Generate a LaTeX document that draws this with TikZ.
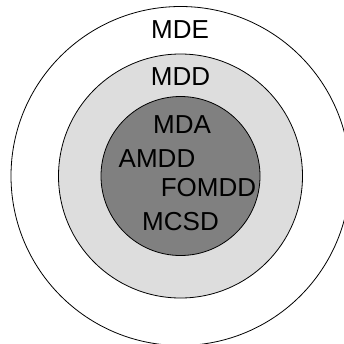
\documentclass[tikz,border=0pt]{standalone}
\usepackage{fontspec}
\setmainfont{Liberation Sans}
\definecolor{ringgray}{RGB}{221,221,221}
\definecolor{coregray}{RGB}{128,128,128}
\begin{document}
\begin{tikzpicture}[x=1pt,y=-1pt, line join=round, font=\fontsize{26}{30}\selectfont,
	ring/.style={draw=black, line width=0.8pt, circle, inner sep=0pt}]
	\def\cx{180.5} \def\cy{176}
	\useasboundingbox (0,0) rectangle (344,343);
	\clip (0,0) rectangle (344,343);
	%\draw[color=gray!50,dashed] (0,0) grid[step=20] (344,343);
	\coordinate (c) at (\cx,\cy);
	\node[ring, minimum size=339pt] (mdering) at (c) {};
	\node[ring, fill=ringgray, minimum size=244pt] (mddring) at (c) {};
	\node[ring, fill=coregray, minimum size=159pt] (mdaring) at (c) {};
	\node (mde) at (180,30) {MDE};
	\node (mdd) at (180.5,77) {MDD};
	\node (mda) at (182,125) {MDA};
	\node (amdd) at (157,159) {AMDD};
	\node (fomdd) at (208.5,188) {FOMDD};
	\node (mcsd) at (180.5,222) {MCSD};
\end{tikzpicture}
\end{document}
